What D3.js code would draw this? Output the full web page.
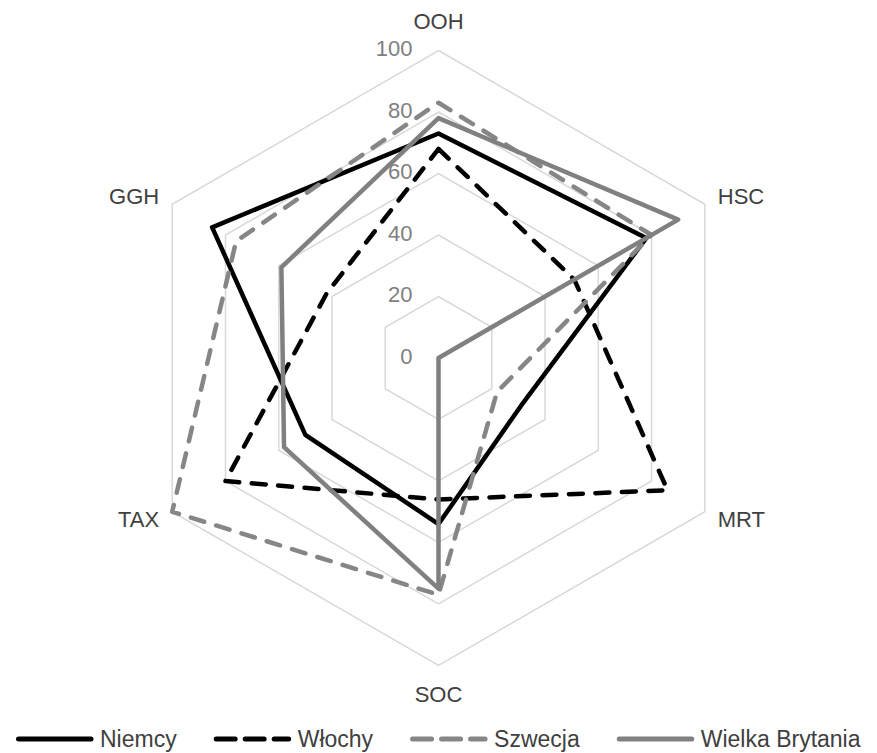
<!DOCTYPE html>
<html>
<head>
<meta charset="utf-8">
<script src="https://cdn.jsdelivr.net/npm/d3@7"></script>
<style>
  html, body { margin: 0; padding: 0; background: #ffffff; }
  svg { display: block; }
</style>
</head>
<body>
<svg id="chart" width="877" height="753"></svg>
<script>
// ---- data ----
const categories = ["OOH", "HSC", "MRT", "SOC", "TAX", "GGH"];
const tickValues = [0, 20, 40, 60, 80, 100];
const seriesNames = ["Niemcy", "Włochy", "Szwecja", "Wielka Brytania"];
const niemcy = [73, 78, 31, 54, 50, 85];
const wlochy = [68, 51, 86, 46, 80, 42];
const szwecja = [83, 80, 22, 77, 100, 76];
const wielkaBrytania = [78, 90, 0, 75, 58, 59];

// ---- styles ----
const seriesStyles = [
  { color: "#000000", dash: null },
  { color: "#000000", dash: "14,12.5" },
  { color: "#868686", dash: "14,12.5" },
  { color: "#808080", dash: null }
];
const seriesValues = [niemcy, wlochy, szwecja, wielkaBrytania];

const svg = d3.select("#chart");
const cx = 438.5, cy = 358, R = 307.5;

const r = d3.scaleLinear().domain([0, 100]).range([0, R]);
const angle = d3.scalePoint().domain(categories).range([0, 2 * Math.PI * (categories.length - 1) / categories.length]);

function pt(cat, v) {
  const a = angle(cat);
  return [cx + r(v) * Math.sin(a), cy - r(v) * Math.cos(a)];
}

const g = svg.append("g");

// grid hexagons
const gridLine = d3.line().curve(d3.curveLinearClosed);
g.selectAll("path.grid")
  .data(tickValues.filter(t => t > 0))
  .enter().append("path")
  .attr("class", "grid")
  .attr("d", t => gridLine(categories.map(c => pt(c, t))))
  .attr("fill", "none")
  .attr("stroke", "#d9d9d9")
  .attr("stroke-width", 1.5);

// tick labels
g.selectAll("text.tick")
  .data(tickValues)
  .enter().append("text")
  .attr("class", "tick")
  .attr("x", cx - 26)
  .attr("y", t => cy - r(t) - 2)
  .attr("text-anchor", "end")
  .attr("dominant-baseline", "central")
  .attr("font-family", "'Liberation Sans', Arial, sans-serif")
  .attr("font-size", 22)
  .attr("fill", "#7f7f7f")
  .text(t => t);

// category labels
g.selectAll("text.cat")
  .data(categories)
  .enter().append("text")
  .attr("class", "cat")
  .each(function (c) {
    const a = angle(c);
    const s = Math.sin(a), co = Math.cos(a);
    const vertical = Math.abs(s) < 0.01;
    const rl = R + 15 + (vertical ? 14 : 0);
    const x = cx + rl * s, y = cy - rl * co;
    d3.select(this)
      .attr("x", x)
      .attr("y", y)
      .attr("text-anchor", vertical ? "middle" : (s > 0 ? "start" : "end"))
      .attr("dominant-baseline", "central");
  })
  .attr("font-family", "'Liberation Sans', Arial, sans-serif")
  .attr("font-size", 22)
  .attr("fill", "#404040")
  .text(c => c);

// series
const line = d3.line().curve(d3.curveLinearClosed);
seriesValues.forEach((vals, i) => {
  const st = seriesStyles[i];
  g.append("path")
    .attr("d", line(categories.map((c, k) => pt(c, vals[k]))))
    .attr("fill", "none")
    .attr("stroke", st.color)
    .attr("stroke-width", 4.5)
    .attr("stroke-linejoin", "round")
    .attr("stroke-linecap", st.dash ? "round" : "butt")
    .attr("stroke-dasharray", st.dash);
});

// legend
const legY = 739;
let lx = 16;
const leg = svg.append("g");
seriesNames.forEach((name, i) => {
  const st = seriesStyles[i];
  leg.append("line")
    .attr("x1", lx + 2.5).attr("x2", lx + 75)
    .attr("y1", legY).attr("y2", legY)
    .attr("stroke", st.color)
    .attr("stroke-width", 5)
    .attr("stroke-linecap", "round")
    .attr("stroke-dasharray", st.dash ? "19,10" : null);
  const t = leg.append("text")
    .attr("x", lx + 84)
    .attr("y", legY)
    .attr("dominant-baseline", "central")
    .attr("font-family", "'Liberation Sans', Arial, sans-serif")
    .attr("font-size", 23)
    .attr("fill", "#404040")
    .text(name);
  lx = lx + 84 + t.node().getComputedTextLength() + 37;
});
</script>
</body>
</html>
